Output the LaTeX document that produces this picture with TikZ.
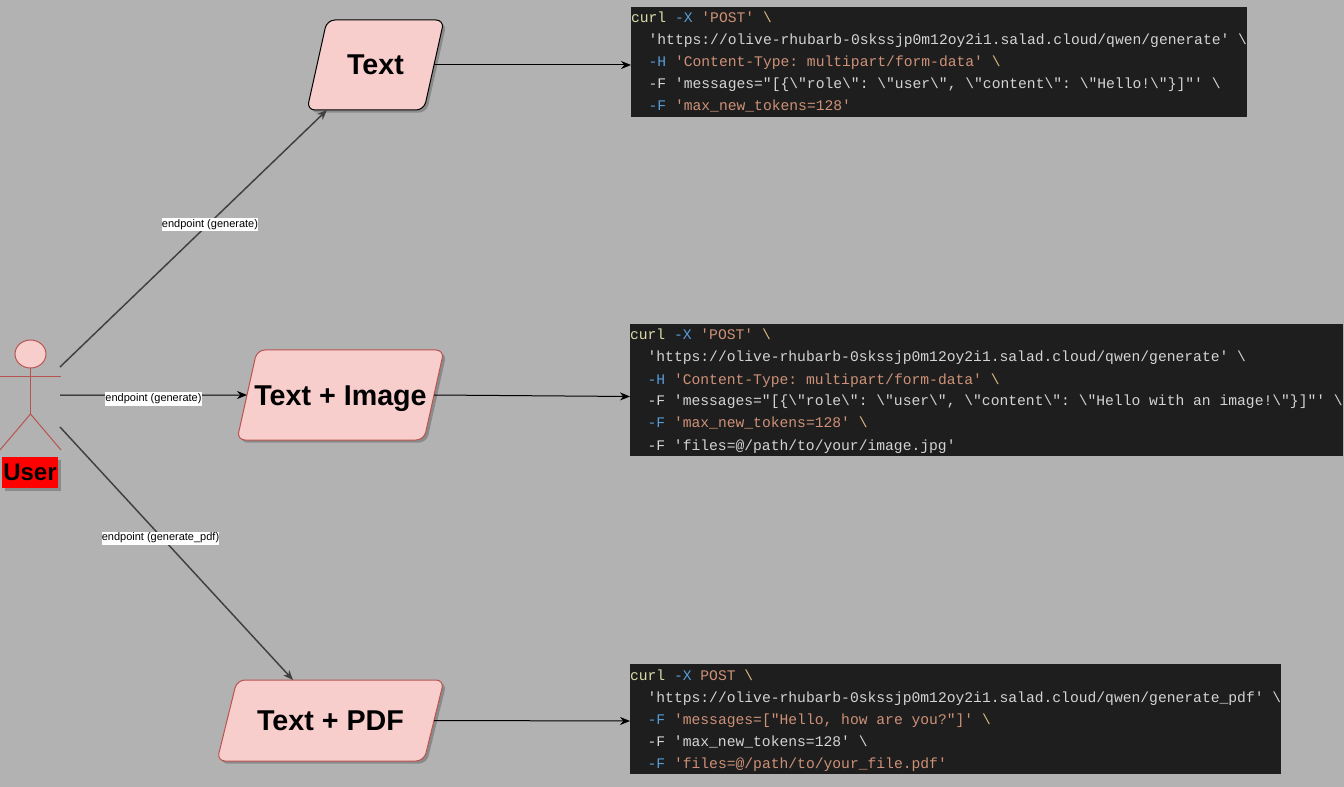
\documentclass[tikz,border=0pt]{standalone}
\usepackage{fontspec}
\setmainfont{Liberation Sans}
\newfontfamily\codefont{Liberation Mono}
\usetikzlibrary{positioning, arrows.meta, shapes.geometric, shadows}

\definecolor{pagegray}{HTML}{B2B2B2}
\definecolor{pinkfill}{HTML}{F8CECC}
\definecolor{pinkline}{HTML}{B85450}
\definecolor{codeback}{HTML}{1E1E1E}
\definecolor{codewhite}{HTML}{D4D4D4}
\definecolor{codecurl}{HTML}{DCDCAA}
\definecolor{codeflag}{HTML}{569CD6}
\definecolor{codestr}{HTML}{CE9178}
\definecolor{codeesc}{HTML}{D7BA7D}

\newcommand{\ccurl}[1]{\textcolor{codecurl}{#1}}
\newcommand{\cflag}[1]{\textcolor{codeflag}{#1}}
\newcommand{\cstr}[1]{\textcolor{codestr}{#1}}
\newcommand{\cesc}{\textcolor{codeesc}{\textbackslash}}

\tikzset{
  softshadow/.style={drop shadow={shadow xshift=2pt, shadow yshift=-2pt, opacity=0.22, fill=black}},
  paracard/.style={shape=trapezium, trapezium stretches body=true, trapezium left angle=50.2, trapezium right angle=129.8,
    draw=pinkline, fill=pinkfill, line width=0.75pt, rounded corners=6pt, inner sep=0pt, outer sep=0pt,
    text height=16.5pt, text depth=1.5pt, font=\fontsize{21.5}{25}\selectfont\bfseries, softshadow},
  codebox/.style={fill=codeback, text=codewhite, inner sep=0pt, outer sep=0pt, align=left,
    font=\fontsize{11}{16.5}\selectfont\codefont,
    execute at begin node={\spaceskip=6.6pt \xspaceskip=6.6pt \rule{0pt}{12pt}},
    execute at end node={\rule[-4.5pt]{0pt}{4.5pt}}},
  edgelabel/.style={fill=white, inner xsep=0pt, inner ysep=0pt, minimum height=9.75pt, font=\fontsize{8.25}{10}\selectfont},
  actorline/.style={draw=pinkline, line width=0.75pt},
  linkline/.style={draw=black, line width=0.75pt, -{Stealth[length=7.5pt, width=6pt]}},
  slantline/.style={draw=black!75, line width=1.1pt, -{Stealth[length=7.5pt, width=6pt]}}
}

\begin{document}
\begin{tikzpicture}[x=0.75pt,y=0.75pt,yscale=-1,xscale=1]
\useasboundingbox (0,0) rectangle (1344,787);
\fill [pagegray] (0,0) rectangle (1344,787);

%Shape: Actor
\draw (30.5,354) node (userHead) [shape=ellipse, actorline, fill=pinkfill, inner sep=0pt, outer sep=0pt, minimum width=23.25pt, minimum height=21pt] {};
\coordinate (userHip) at (30.5,414);
\coordinate (userArmL) at (0,377);
\coordinate (userArmR) at (61,377);
\coordinate (userLegL) at (0,450);
\coordinate (userLegR) at (61,450);
\draw [actorline] (userHead.south) -- (userHip);
\draw [actorline] (userArmL) -- (userArmR);
\draw [actorline] (userLegL) -- (userHip) -- (userLegR);
\draw (30,472.5) node (userName) [fill=red, inner sep=0pt, minimum width=42pt, minimum height=23.25pt, font=\fontsize{18}{22}\selectfont\bfseries, softshadow] {User};

%Free ends at the actor
\coordinate (userTop) at (60,367);
\coordinate (userMid) at (60,395);
\coordinate (userLow) at (60,427);

%Shape: Parallelogram
\draw (375.5,65) node (textShape) [paracard, draw=black, minimum width=102.75pt, minimum height=67.5pt] {Text};
\draw (340.5,395) node (imageShape) [paracard, inner xsep=-3pt, minimum width=155.25pt, minimum height=67.5pt] {Text + Image};
\draw (330.5,720.5) node (pdfShape) [paracard, minimum width=170.25pt, minimum height=60.75pt] {Text + PDF};

% Code Node
\draw (939,62) node (textCode) [codebox, text width=462pt, minimum height=82.5pt] {%
\ccurl{curl} \cflag{-X} \cstr{'POST'} \cesc\\
~~'https://olive-rhubarb-0skssjp0m12oy2i1.salad.cloud/qwen/generate'~\textbackslash\\
~~\cflag{-H} \cstr{'Content-Type: multipart/form-data'} \cesc\\
~~-F 'messages="[\{\textbackslash"role\textbackslash": \textbackslash"user\textbackslash", \textbackslash"content\textbackslash": \textbackslash"Hello!\textbackslash"\}]"' \textbackslash\\
~~\cflag{-F} \cstr{'max\_new\_tokens=128'}};
\draw (986.5,390) node (imageCode) [codebox, text width=534.75pt, minimum height=99pt] {%
\ccurl{curl} \cflag{-X} \cstr{'POST'} \cesc\\
~~'https://olive-rhubarb-0skssjp0m12oy2i1.salad.cloud/qwen/generate' \textbackslash\\
~~\cflag{-H} \cstr{'Content-Type: multipart/form-data'} \cesc\\
~~-F 'messages="[\{\textbackslash"role\textbackslash": \textbackslash"user\textbackslash", \textbackslash"content\textbackslash": \textbackslash"Hello with an image!\textbackslash"\}]"'~\textbackslash\\
~~\cflag{-F} \cstr{'max\_new\_tokens=128'} \cesc\\
~~-F 'files=@/path/to/your/image.jpg'};
\draw (955.5,719) node (pdfCode) [codebox, text width=488.25pt, minimum height=82.5pt] {%
\ccurl{curl} \cflag{-X} \cstr{POST} \cesc\\
~~'https://olive-rhubarb-0skssjp0m12oy2i1.salad.cloud/qwen/generate\_pdf'~\textbackslash\\
~~\cflag{-F} \cstr{'messages=["Hello, how are you?"]'} \cesc\\
~~-F 'max\_new\_tokens=128' \textbackslash\\
~~\cflag{-F} \cstr{'files=@/path/to/your\_file.pdf'}};

%Straight Lines
\draw [slantline] (userTop) -- ([xshift=15pt]textShape.bottom left corner);
\draw [linkline] (userMid) -- (imageShape.west);
\draw [slantline] (userLow) -- ([xshift=42pt]pdfShape.top left corner);
\draw [linkline] (textShape.east) -- (textShape.east -| textCode.west);
\draw [linkline] (imageShape.east) -- (imageCode.west |- 0,396.5);
\draw [linkline] (pdfShape.east) -- (pdfCode.west |- 0,721);

% Text Node
\draw (210,225) node (labelTop) [edgelabel] {endpoint (generate)};
\draw (153.5,399) node (labelMid) [edgelabel] {endpoint (generate)};
\draw (160.5,538) node (labelLow) [edgelabel] {endpoint (generate\_pdf)};
\end{tikzpicture}
\end{document}
